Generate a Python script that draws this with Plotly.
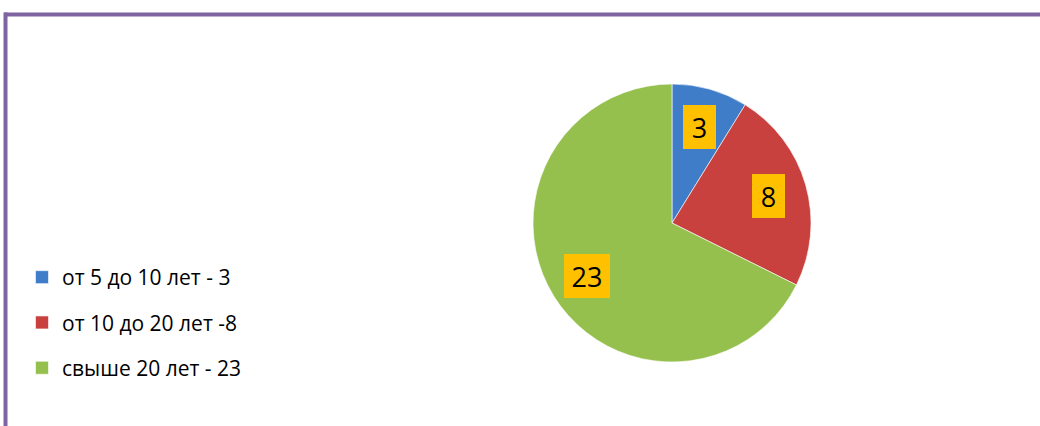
import math
import plotly.graph_objects as go

categories = ["от 5 до 10 лет - 3", "от 10 до 20 лет -8", "свыше 20 лет - 23"]
values = [3, 8, 23]
colors = ["#3F7DC9", "#C9413F", "#96C04E"]

W, H = 1040, 426
FONT = "Open Sans, Lato, sans-serif"


def px(x):
    return x / W


def py(y):
    return 1 - y / H


# pie geometry (pixels)
cx, cy, r = 672, 223, 139
dom_x = [px(cx - r), px(cx + r)]
dom_y = [py(cy + r), py(cy - r)]

fig = go.Figure()
fig.add_trace(go.Pie(
    labels=categories, values=values, sort=False, direction="clockwise",
    rotation=0, textinfo="none", hoverinfo="label+value",
    marker=dict(colors=colors, line=dict(color="rgba(255,255,255,0.6)", width=1)),
    domain=dict(x=dom_x, y=dom_y), showlegend=False,
))

# legend entries
for name, col in zip(categories, colors):
    fig.add_trace(go.Scatter(
        x=[None], y=[None], mode="markers", name=name, legendgroup=name,
        marker=dict(symbol="square", size=13, color=col,
                    line=dict(color="rgba(255,255,255,0.6)", width=1)),
    ))

# data labels on orange boxes
total = sum(values)
cum = 0
for v in values:
    mid = (cum + v / 2) / total * 2 * math.pi
    cum += v
    lx = cx + 0.72 * r * math.sin(mid)
    ly = cy - 0.72 * r * math.cos(mid)
    n = len(str(v))
    fig.add_annotation(
        x=px(lx), y=py(ly), xref="paper", yref="paper",
        xanchor="center", yanchor="middle",
        text=str(v), showarrow=False,
        font=dict(size=27, color="black", family=FONT),
        bgcolor="#FFC000", width=20 + 13 * n, height=44, borderpad=0, borderwidth=0,
    )

border = "#8064A2"
fig.add_shape(type="line", xref="paper", yref="paper",
              x0=px(4), x1=1, y0=py(14.5), y1=py(14.5),
              line=dict(color=border, width=4))
fig.add_shape(type="line", xref="paper", yref="paper",
              x0=px(5.5), x1=px(5.5), y0=py(12.5), y1=0,
              line=dict(color=border, width=4))

fig.update_layout(
    width=W, height=H, margin=dict(l=0, r=0, t=0, b=0),
    paper_bgcolor="white", plot_bgcolor="white",
    xaxis=dict(visible=False), yaxis=dict(visible=False),
    legend=dict(x=px(22), y=py(257), xanchor="left", yanchor="top",
                font=dict(size=21, color="black", family=FONT),
                tracegroupgap=15, itemwidth=30, bgcolor="rgba(0,0,0,0)"),
)

fig.write_html("out.html", config={"displayModeBar": False},
               post_script="document.body.style.margin='0';")
